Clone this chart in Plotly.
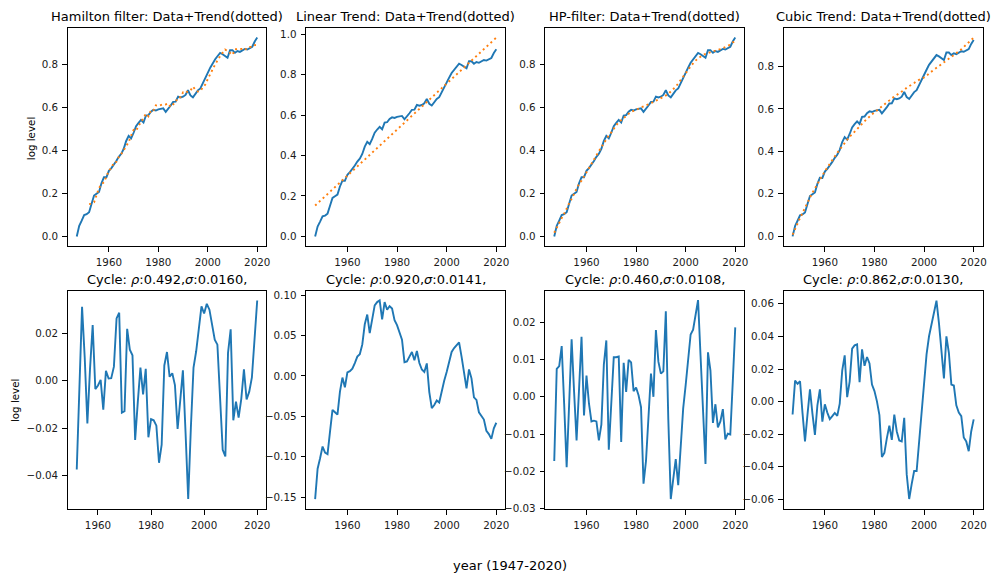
import plotly.graph_objects as go

# ---- data -----------------------------------------------------------------
years = list(range(1947, 2021))
hamilton_years = years[5:]          # Hamilton filter loses the first 5 obs

# log level of the series (normalised to 0 in 1947)
log_level = [
    0.0000, 0.0490, 0.0734, 0.0992, 0.1031, 0.1125, 0.1519, 0.1902, 0.1986, 0.2070,
    0.2469, 0.2757, 0.2751, 0.3050, 0.3179, 0.3322, 0.3506, 0.3700, 0.3844, 0.4077,
    0.4441, 0.4675, 0.4559, 0.4822, 0.5131, 0.5285, 0.5419, 0.5297, 0.5626, 0.5645,
    0.5804, 0.5887, 0.5856, 0.5910, 0.5934, 0.5957, 0.5791, 0.5915, 0.6089, 0.6259,
    0.6271, 0.6500, 0.6464, 0.6497, 0.6581, 0.6800, 0.6559, 0.6472, 0.6626, 0.6795,
    0.6884, 0.7147, 0.7381, 0.7605, 0.7849, 0.8079, 0.8241, 0.8395, 0.8539, 0.8477,
    0.8401, 0.8310, 0.8659, 0.8662, 0.8541, 0.8623, 0.8584, 0.8650, 0.8721, 0.8695,
    0.8769, 0.8822, 0.9066, 0.9250,
]

# cyclical components (data minus trend) for each detrending method
cycle_hamilton = [
    -0.0375, 0.0000, 0.0313, 0.0100, -0.0180, 0.0050, 0.0236, -0.0035, -0.0020, 0.0004,
    -0.0122, 0.0042, 0.0010, 0.0011, 0.0060, 0.0264, 0.0288, -0.0135, -0.0129, 0.0220,
    0.0132, 0.0108, -0.0250, -0.0090, 0.0056, -0.0058, 0.0051, -0.0239, -0.0162, -0.0167,
    -0.0190, -0.0347, -0.0270, 0.0065, 0.0122, 0.0017, 0.0032, -0.0018, -0.0204, -0.0083,
    0.0044, -0.0220, -0.0500, -0.0200, 0.0056, 0.0125, 0.0215, 0.0315, 0.0285, 0.0326,
    0.0301, 0.0236, 0.0174, 0.0153, -0.0063, -0.0292, -0.0320, 0.0118, 0.0218, -0.0167,
    -0.0088, -0.0156, -0.0076, 0.0049, -0.0079, -0.0046, 0.0014, 0.0167, 0.0340,
]
cycle_linear = [
    -0.1526, -0.1150, -0.1020, -0.0875, -0.0950, -0.0970, -0.0690, -0.0420, -0.0450, -0.0480,
    -0.0195, -0.0020, -0.0140, 0.0045, 0.0060, 0.0090, 0.0160, 0.0240, 0.0270, 0.0390,
    0.0640, 0.0760, 0.0530, 0.0680, 0.0875, 0.0915, 0.0935, 0.0700, 0.0915, 0.0820,
    0.0865, 0.0835, 0.0690, 0.0630, 0.0540, 0.0450, 0.0170, 0.0180, 0.0240, 0.0297,
    0.0195, 0.0310, 0.0160, 0.0080, 0.0050, 0.0155, -0.0200, -0.0400, -0.0360, -0.0305,
    -0.0330, -0.0180, -0.0060, 0.0050, 0.0180, 0.0297, 0.0345, 0.0385, 0.0415, 0.0240,
    0.0050, -0.0155, 0.0080, -0.0030, -0.0265, -0.0297, -0.0450, -0.0497, -0.0540, -0.0680,
    -0.0720, -0.0780, -0.0650, -0.0580,
]
cycle_hp = [
    -0.0172, 0.0075, 0.0082, 0.0136, -0.0020, -0.0189, -0.0020, 0.0154, 0.0013, -0.0117,
    0.0020, 0.0161, -0.0050, 0.0057, -0.0018, -0.0066, -0.0064, -0.0066, -0.0117, -0.0075,
    0.0086, 0.0151, -0.0142, -0.0020, 0.0106, 0.0106, 0.0108, -0.0121, 0.0091, 0.0013,
    0.0099, 0.0092, 0.0015, 0.0025, 0.0004, -0.0028, -0.0233, -0.0172, -0.0057, 0.0062,
    0.0000, 0.0179, 0.0094, 0.0062, 0.0068, 0.0229, -0.0060, -0.0274, -0.0220, -0.0167,
    -0.0237, -0.0119, -0.0031, 0.0031, 0.0101, 0.0167, 0.0180, 0.0217, 0.0259, 0.0110,
    -0.0040, -0.0180, 0.0119, 0.0070, -0.0070, -0.0020, -0.0082, -0.0066, -0.0033, -0.0114,
    -0.0099, -0.0101, 0.0040, 0.0186,
]
cycle_cubic = [
    -0.0079, 0.0129, 0.0109, 0.0125, -0.0070, -0.0244, -0.0080, 0.0075, -0.0073, -0.0204,
    -0.0022, 0.0075, -0.0123, -0.0016, -0.0067, -0.0107, -0.0089, -0.0069, -0.0087, -0.0012,
    0.0190, 0.0284, 0.0028, 0.0123, 0.0325, 0.0345, 0.0351, 0.0119, 0.0321, 0.0220,
    0.0274, 0.0234, 0.0105, 0.0065, 0.0002, -0.0083, -0.0339, -0.0314, -0.0224, -0.0147,
    -0.0234, -0.0079, -0.0183, -0.0238, -0.0244, -0.0099, -0.0446, -0.0597, -0.0506, -0.0425,
    -0.0425, -0.0244, -0.0052, 0.0119, 0.0290, 0.0401, 0.0478, 0.0546, 0.0619, 0.0482,
    0.0300, 0.0143, 0.0401, 0.0300, 0.0105, 0.0099, -0.0022, -0.0067, -0.0089, -0.0220,
    -0.0244, -0.0304, -0.0183, -0.0109,
]

method_names = ["Hamilton filter", "Linear Trend", "HP-filter", "Cubic Trend"]
rho_values = ["0.492", "0.920", "0.460", "0.862"]
sigma_values = ["0.0160", "0.0141", "0.0108", "0.0130"]

# tick values of the panels
cycle_ticks = [
    [-0.04, -0.02, 0.00, 0.02],
    [-0.15, -0.10, -0.05, 0.00, 0.05, 0.10],
    [-0.03, -0.02, -0.01, 0.00, 0.01, 0.02],
    [-0.06, -0.04, -0.02, 0.00, 0.02, 0.04, 0.06],
]
level_ticks = [0.0, 0.2, 0.4, 0.6, 0.8, 1.0]
year_ticks = [1960, 1980, 2000, 2020]

# ---- figure -----------------------------------------------------------------
W, H = 997, 581
BLUE = "#1f77b4"
ORANGE = "#ff7f0e"
FONT = "DejaVu Sans"
TICK_FONT = dict(family=FONT, size=10.3, color="#1a1a1a")

col_px = [(68.0, 267.3), (307.3, 507.4), (547.4, 747.3), (786.7, 986.7)]
top_px = (26.0, 247.3)
bot_px = (292.3, 513.3)

top_yrange = [[-0.046, 0.971], [-0.049, 1.032], [-0.046, 0.971], [-0.047, 0.983]]
bot_yrange = [[-0.0543, 0.0381], [-0.165, 0.1055], [-0.0301, 0.0284], [-0.0659, 0.068]]
full_xrange = [1943.35, 2023.65]
ham_xrange = [1948.6, 2023.4]

series = [
    (hamilton_years, log_level[5:], cycle_hamilton),
    (years, log_level, cycle_linear),
    (years, log_level, cycle_hp),
    (years, log_level, cycle_cubic),
]


def fmt(v, nd):
    s = f"{v:.{nd}f}"
    if s.startswith("-"):
        s = "\u2212" + s[1:]
    return s


def xdom(i):
    a, b = col_px[i]
    return [a / W, b / W]


def ydom(px):
    a, b = px
    return [1 - b / H, 1 - a / H]


axis_common = dict(
    showline=True, mirror=True, linecolor="black", linewidth=1,
    ticks="outside", ticklen=4.5, tickwidth=1, tickcolor="black",
    ticklabelstandoff=2, ticklabeloverflow="allow",
    showgrid=False, zeroline=False,
    tickfont=TICK_FONT,
)

fig = go.Figure()
layout = {}
annotations = []
for i, (xs, lvl, cyc) in enumerate(series):
    top_n = i + 1
    bot_n = i + 5
    trend = [round(a - c, 4) for a, c in zip(lvl, cyc)]

    # top row: data and trend
    fig.add_trace(go.Scatter(x=years, y=log_level, mode="lines",
                             line=dict(color=BLUE, width=1.9),
                             xaxis=f"x{top_n}", yaxis=f"y{top_n}", showlegend=False))
    fig.add_trace(go.Scatter(x=xs, y=trend, mode="lines",
                             line=dict(color=ORANGE, width=1.9, dash="2px,3.2px"),
                             xaxis=f"x{top_n}", yaxis=f"y{top_n}", showlegend=False))
    # bottom row: cycle
    fig.add_trace(go.Scatter(x=xs, y=cyc, mode="lines",
                             line=dict(color=BLUE, width=1.9),
                             xaxis=f"x{bot_n}", yaxis=f"y{bot_n}", showlegend=False))

    layout[f"xaxis{top_n}"] = dict(axis_common, domain=xdom(i), anchor=f"y{top_n}",
                                   range=full_xrange, tickvals=year_ticks)
    layout[f"yaxis{top_n}"] = dict(axis_common, domain=ydom(top_px), anchor=f"x{top_n}",
                                   range=top_yrange[i], tickvals=level_ticks,
                                   ticktext=[fmt(v, 1) for v in level_ticks])
    layout[f"xaxis{bot_n}"] = dict(axis_common, domain=xdom(i), anchor=f"y{bot_n}",
                                   range=ham_xrange if i == 0 else full_xrange,
                                   tickvals=year_ticks)
    layout[f"yaxis{bot_n}"] = dict(axis_common, domain=ydom(bot_px), anchor=f"x{bot_n}",
                                   range=bot_yrange[i], tickvals=cycle_ticks[i],
                                   ticktext=[fmt(v, 2) for v in cycle_ticks[i]])

    cx = (col_px[i][0] + col_px[i][1]) / 2 / W
    annotations.append(dict(
        text=f"{method_names[i]}: Data+Trend(dotted)",
        x=cx, y=1 - 15 / H, xref="paper", yref="paper",
        xanchor="center", yanchor="middle", showarrow=False,
        font=dict(family=FONT, size=13, color="black")))
    annotations.append(dict(
        text=f"Cycle: <i>ρ</i>:{rho_values[i]},<i>σ</i>:{sigma_values[i]},",
        x=cx, y=1 - 281 / H, xref="paper", yref="paper",
        xanchor="center", yanchor="middle", showarrow=False,
        font=dict(family=FONT, size=13, color="black")))

annotations.append(dict(text="log level", x=31 / W, y=1 - 138 / H, xref="paper", yref="paper",
                        textangle=-90, xanchor="center", yanchor="middle", showarrow=False,
                        font=dict(family=FONT, size=10.3, color="black")))
annotations.append(dict(text="log level", x=15 / W, y=1 - 403 / H, xref="paper", yref="paper",
                        textangle=-90, xanchor="center", yanchor="middle", showarrow=False,
                        font=dict(family=FONT, size=10.3, color="black")))
annotations.append(dict(text="year (1947-2020)", x=512 / W, y=1 - 570 / H,
                        xref="paper", yref="paper", xanchor="center", yanchor="middle",
                        showarrow=False, font=dict(family=FONT, size=13, color="black")))

fig.update_layout(
    width=W, height=H,
    margin=dict(l=0, r=0, t=0, b=0),
    paper_bgcolor="white", plot_bgcolor="rgba(0,0,0,0)",
    font=dict(family=FONT, size=10, color="black"),
    annotations=annotations,
    showlegend=False,
    **layout,
)

# static page: no interactive drag layers over the neighbouring tick labels
fig.write_html("out.html", config={"staticPlot": True, "displayModeBar": False})
